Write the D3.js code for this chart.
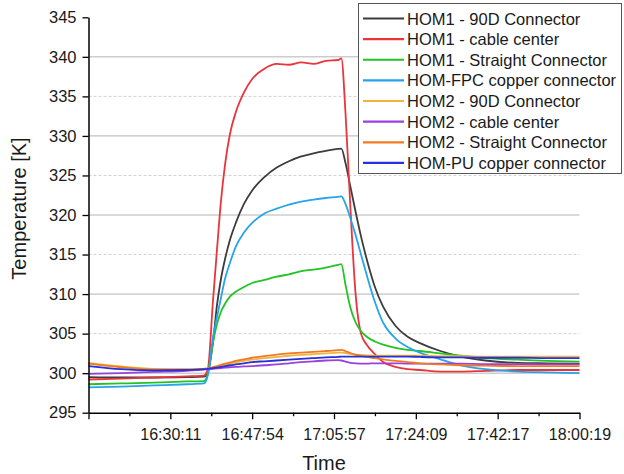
<!DOCTYPE html>
<html><head><meta charset="utf-8">
<script src="https://cdn.jsdelivr.net/npm/d3@7"></script>
<style>
html,body{margin:0;padding:0;background:#fff;}
svg{display:block;font-family:"Liberation Sans",Arial,sans-serif;}
</style></head>
<body><svg id="chart" width="624" height="474"></svg>
<script>
// x positions are in units of tick intervals (tick label i sits at i+1)
const tickLabels = ["16:30:11","16:47:54","17:05:57","17:24:09","17:42:17","18:00:19"];
const tickPos = [1,2,3,4,5,6];
const xGrid = [0,0.4,0.8,1.2,1.41,1.46,1.52,1.57,1.62,1.67,1.73,1.8,1.9,2.0,2.15,2.3,2.45,2.6,2.75,2.9,3.05,3.09,3.14,3.2,3.26,3.33,3.4,3.5,3.6,3.75,3.9,4.05,4.3,4.55,4.85,5.25,5.6,6.0];

const hom1_90D = [299.5,299.45,299.45,299.5,299.55,300.2,303.8,308.6,312.0,314.5,316.9,319.0,321.4,323.1,324.8,326.0,326.8,327.4,327.8,328.1,328.35,328.4,326.6,323.6,320.6,317.3,314.4,310.9,308.4,306.0,304.6,303.8,302.8,302.1,301.6,301.3,301.25,301.2];
const hom1_cable = [299.2,299.3,299.45,299.6,299.7,300.6,309.0,315.6,321.9,326.5,330.3,333.0,335.5,337.2,338.5,339.1,339.0,339.3,339.1,339.5,339.6,339.8,333.0,321.0,310.5,305.0,303.6,302.4,301.4,300.8,300.5,300.4,300.2,300.2,300.3,300.4,300.4,300.4];
const hom1_straight = [298.6,298.7,298.8,298.95,299.0,300.0,303.8,306.2,307.8,308.8,309.7,310.3,310.9,311.4,311.8,312.2,312.5,312.9,313.1,313.35,313.7,313.8,311.2,308.3,306.5,305.3,304.6,304.0,303.6,303.2,302.95,302.8,302.5,302.2,301.9,301.7,301.55,301.45];
const homFPC = [298.2,298.3,298.45,298.6,298.7,299.8,304.5,307.1,309.6,312.0,314.0,316.0,317.8,319.0,320.2,320.8,321.3,321.7,321.95,322.15,322.3,322.35,321.4,319.6,317.6,315.0,312.4,309.0,306.4,304.4,303.3,302.6,301.75,301.0,300.5,300.2,300.1,300.0];
const hom2_90D = [301.3,300.85,300.55,300.5,300.55,300.6,300.7,300.8,300.95,301.05,301.2,301.35,301.55,301.7,301.9,302.05,302.2,302.3,302.4,302.5,302.6,302.6,302.55,302.45,302.35,302.3,302.25,302.2,302.2,302.2,302.2,302.2,302.15,302.15,302.1,302.1,302.1,302.1];
const hom2_cable = [299.9,300.0,300.15,300.3,300.45,300.5,300.55,300.6,300.65,300.7,300.75,300.8,300.85,300.9,301.0,301.1,301.25,301.4,301.5,301.6,301.65,301.6,301.45,301.3,301.25,301.2,301.2,301.25,301.25,301.25,301.2,301.2,301.2,301.2,301.15,301.15,301.1,301.1];
const hom2_straight = [301.2,300.75,300.45,300.45,300.55,300.6,300.75,300.9,301.05,301.2,301.35,301.55,301.75,301.95,302.15,302.35,302.5,302.6,302.7,302.8,302.9,302.95,302.8,302.55,302.35,302.2,302.05,301.9,301.75,301.55,301.4,301.25,301.1,301.0,300.95,300.9,300.9,300.9];
const homPU = [300.9,300.5,300.35,300.4,300.5,300.55,300.65,300.7,300.8,300.9,301.0,301.1,301.25,301.4,301.5,301.6,301.7,301.8,301.9,302.0,302.05,302.1,302.1,302.1,302.1,302.1,302.1,302.1,302.1,302.1,302.1,302.05,302.0,302.0,301.95,301.95,301.9,301.9];

const seriesNames = ["HOM1 - 90D Connector","HOM1 - cable center","HOM1 - Straight Connector","HOM-FPC copper connector","HOM2 - 90D Connector","HOM2 - cable center","HOM2 - Straight Connector","HOM-PU copper connector"];
const seriesValues = [hom1_90D,hom1_cable,hom1_straight,homFPC,hom2_90D,hom2_cable,hom2_straight,homPU];
const seriesColors = ["#3c3c3c","#e8353b","#22c322","#27a3ea","#f2b43c","#9b40dc","#f07a22","#2432dc"];
const yTicks = [295,300,305,310,315,320,325,330,335,340,345];

const svg = d3.select("#chart");
const L = 88.5, R = 579.5, T = 17.3, B = 412.7;
const x = d3.scaleLinear().domain([0,6]).range([L,R]);
const y = d3.scaleLinear().domain([295,345]).range([B,T]);

// grid
const g = svg.append("g");
yTicks.filter(v => v>295 && v<345).forEach(v => {
  const major = v % 10 === 0;
  g.append("line").attr("x1",L).attr("x2",R).attr("y1",y(v)).attr("y2",y(v))
    .attr("stroke", major ? "#b4b4b4" : "#d2d2d2")
    .attr("stroke-width",1)
    .attr("stroke-dasharray", major ? null : "3,2");
});

// lines
const line = d3.line().x((d,i)=>x(xGrid[i])).y(d=>y(d)).curve(d3.curveMonotoneX);
seriesValues.forEach((vals,k)=>{
  svg.append("path").datum(vals).attr("d",line)
    .attr("fill","none").attr("stroke",seriesColors[k]).attr("stroke-width",1.8)
    .attr("stroke-linejoin","round");
});

// axes
const yAxis = d3.axisLeft(y).tickValues(yTicks).tickSize(6).tickPadding(6).tickSizeOuter(0);
const ga = svg.append("g").attr("transform",`translate(${L},0)`).call(yAxis);
ga.select(".domain").attr("stroke","#000").attr("stroke-width",1.5);
ga.selectAll(".tick line").attr("stroke","#000").attr("stroke-width",1.3);
ga.selectAll(".tick text").attr("font-size","16.5px").attr("fill","#1a1a1a").attr("font-family","Liberation Sans, Arial, sans-serif");

const xMinor = d3.range(0,6.01,0.5);
const gxm = svg.append("g").attr("transform",`translate(0,${B})`)
  .call(d3.axisBottom(x).tickValues(xMinor.filter(v=>v%1!==0)).tickSize(3.5).tickFormat("").tickSizeOuter(0));
gxm.select(".domain").remove();
gxm.selectAll(".tick line").attr("stroke","#000").attr("stroke-width",1.3);
const xAxis = d3.axisBottom(x).tickValues([0].concat(tickPos)).tickSize(6.5).tickPadding(9)
  .tickFormat(v => v===0 ? "" : tickLabels[tickPos.indexOf(v)]).tickSizeOuter(0);
const gx = svg.append("g").attr("transform",`translate(0,${B})`).call(xAxis);
gx.select(".domain").attr("stroke","#000").attr("stroke-width",1.5);
gx.selectAll(".tick line").attr("stroke","#000").attr("stroke-width",1.3);
gx.selectAll(".tick text").attr("font-size","16px").attr("fill","#1a1a1a").attr("font-family","Liberation Sans, Arial, sans-serif");

// axis titles
svg.append("text").attr("transform","translate(26,208.5) rotate(-90)")
  .attr("text-anchor","middle").attr("font-size","20px").attr("fill","#1a1a1a").text("Temperature [K]");
svg.append("text").attr("x",324).attr("y",470).attr("text-anchor","middle")
  .attr("font-size","20px").attr("fill","#1a1a1a").text("Time");

// legend
const lg = svg.append("g");
lg.append("rect").attr("x",358.5).attr("y",3.5).attr("width",263).attr("height",170)
  .attr("fill","#fff").attr("stroke","#555").attr("stroke-width",1);
seriesNames.forEach((n,k)=>{
  const cy = 18.5 + k*20.63;
  lg.append("line").attr("x1",363).attr("x2",404).attr("y1",cy).attr("y2",cy)
    .attr("stroke",seriesColors[k]).attr("stroke-width",2.2);
  lg.append("text").attr("x",407).attr("y",cy+6).attr("font-size","16.5px").attr("fill","#1a1a1a").text(n);
});
</script></body></html>
